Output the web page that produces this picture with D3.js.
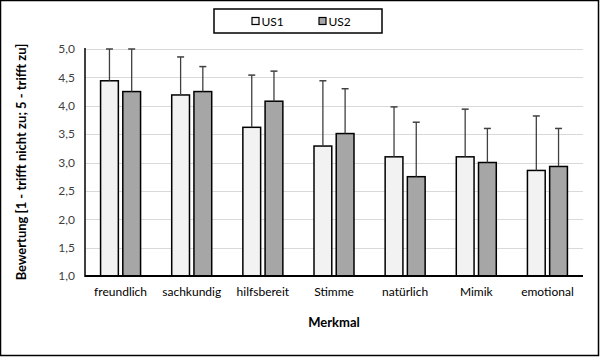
<!DOCTYPE html>
<html><head><meta charset="utf-8">
<script src="https://cdn.jsdelivr.net/npm/d3@7"></script>
<style>body{margin:0;background:#fff}svg{display:block}text{font-family:Lato,"Open Sans",sans-serif}</style>
</head><body><svg id="c" width="600" height="357"></svg>
<script>
const categories = ["freundlich","sachkundig","hilfsbereit","Stimme","natürlich","Mimik","emotional"];
const seriesNames = ["US1","US2"];
const us1 = [4.44,4.19,3.62,3.29,3.10,3.10,2.86];
const us2 = [4.25,4.25,4.08,3.51,2.75,3.00,2.93];
const us1Err = [0.70,0.67,0.92,1.15,0.88,0.84,0.96];
const us2Err = [0.90,0.44,0.53,0.79,0.96,0.60,0.67];
const yTicks = [1.0,1.5,2.0,2.5,3.0,3.5,4.0,4.5,5.0];
const colors = ["#f2f2f2","#a6a6a6"];

const svg = d3.select("#c");
const L=85, R=583, T=49, B=276;
svg.append("rect").attr("x",0.5).attr("y",0.5).attr("width",598).attr("height",355)
  .attr("fill","#fff").attr("stroke","#000").attr("stroke-width",1.5);

const y = d3.scaleLinear().domain([1,5]).range([B,T]);
const x0 = d3.scaleBand().domain(categories).range([L,R]);
const x1 = d3.scaleBand().domain(seriesNames).range([0,40]).paddingInner(0.2);

// gridlines
svg.append("g").selectAll("line").data(yTicks.slice(1)).join("line")
  .attr("x1",L).attr("x2",R).attr("y1",d=>Math.round(y(d))+0.5).attr("y2",d=>Math.round(y(d))+0.5)
  .attr("stroke","#d9d9d9").attr("stroke-width",1);

// y labels
const yAxis = d3.axisLeft(y).tickValues(yTicks).tickSize(0).tickPadding(10)
  .tickFormat(d=>d3.format(".1f")(d).replace(".",","));
const ga = svg.append("g").attr("transform",`translate(${L},0)`).call(yAxis);
ga.select(".domain").remove();
ga.selectAll("text").attr("font-size",12).attr("fill","#404040").style("font-family","Lato,sans-serif");

const data = categories.map((c,i)=>({c, vals:[{s:"US1",v:us1[i],e:us1Err[i]},{s:"US2",v:us2[i],e:us2Err[i]}]}));
const g = svg.append("g").selectAll("g").data(data).join("g")
  .attr("transform",d=>`translate(${x0(d.c)+x0.bandwidth()/2-20},0)`);
g.selectAll("rect").data(d=>d.vals).join("rect")
  .attr("x",d=>x1(d.s)).attr("width",x1.bandwidth())
  .attr("y",d=>y(d.v)).attr("height",d=>B-y(d.v))
  .attr("fill",(d,i)=>colors[i]).attr("stroke","#000").attr("stroke-width",1.5);
// error bars
g.selectAll("line.e").data(d=>d.vals).join("line").attr("class","e")
  .attr("x1",d=>x1(d.s)+x1.bandwidth()/2).attr("x2",d=>x1(d.s)+x1.bandwidth()/2)
  .attr("y1",d=>y(d.v)).attr("y2",d=>y(Math.min(5,d.v+d.e)))
  .attr("stroke","#404040").attr("stroke-width",1.3);
g.selectAll("line.c").data(d=>d.vals).join("line").attr("class","c")
  .attr("x1",d=>x1(d.s)+x1.bandwidth()/2-3.5).attr("x2",d=>x1(d.s)+x1.bandwidth()/2+3.5)
  .attr("y1",d=>y(Math.min(5,d.v+d.e))).attr("y2",d=>y(Math.min(5,d.v+d.e)))
  .attr("stroke","#404040").attr("stroke-width",1.5);

// axes lines
svg.append("line").attr("x1",L).attr("x2",L).attr("y1",T-1).attr("y2",B+1).attr("stroke","#000").attr("stroke-width",1.5);
svg.append("line").attr("x1",L).attr("x2",R).attr("y1",B).attr("y2",B).attr("stroke","#000").attr("stroke-width",2);

// x labels
const xAxis = d3.axisBottom(x0).tickSize(0).tickPadding(11);
const gx = svg.append("g").attr("transform",`translate(0,${B})`).call(xAxis);
gx.select(".domain").remove();
gx.selectAll("text").attr("font-size",12).attr("fill","#000").style("font-family","Lato,sans-serif");

// titles
svg.append("text").attr("x",(L+R)/2).attr("y",327).attr("text-anchor","middle")
  .attr("font-size",13).attr("font-weight","bold").text("Merkmal");
svg.append("text").attr("transform","translate(26,162) rotate(-90)").attr("text-anchor","middle")
  .attr("font-size",13).attr("font-weight","bold").text("Bewertung [1 - trifft nicht zu; 5 - trifft zu]");

// legend
svg.append("rect").attr("x",214).attr("y",9).attr("width",168).attr("height",24)
  .attr("fill","#fff").attr("stroke","#000").attr("stroke-width",1.5);
const lg = svg.append("g").selectAll("g").data(seriesNames).join("g")
  .attr("transform",(d,i)=>`translate(${[252,319][i]},0)`);
lg.append("rect").attr("x",0).attr("y",17.5).attr("width",7).attr("height",7)
  .attr("fill",(d,i)=>colors[i]).attr("stroke","#000").attr("stroke-width",1.2);
lg.append("text").attr("x",9.5).attr("y",25.5).attr("font-size",12).text(d=>d);
</script></body></html>
